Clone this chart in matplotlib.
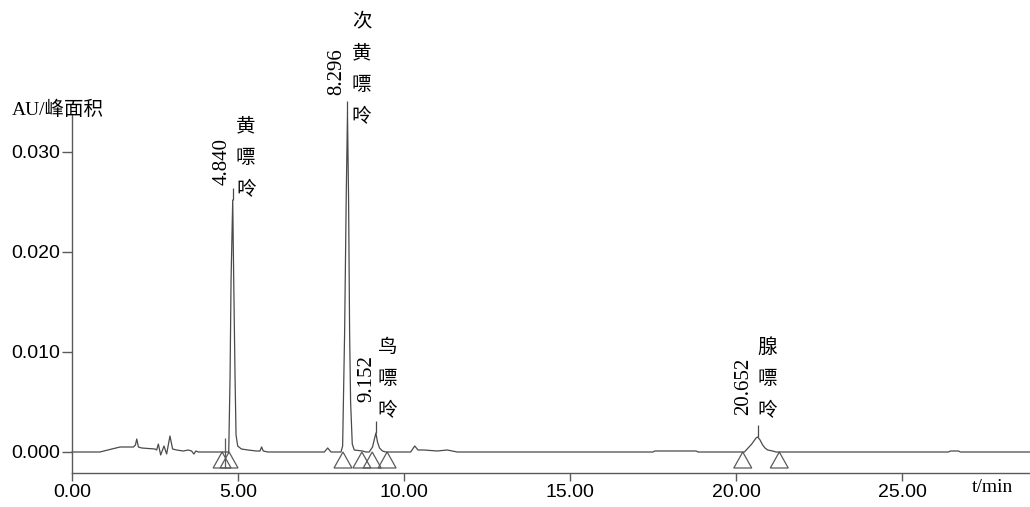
import matplotlib.pyplot as plt
from matplotlib.patches import Polygon

plt.rcParams['font.family'] = ['Liberation Sans', 'Noto Sans CJK SC']

# chromatogram trace: retention time (min) and detector signal (AU)
time_min = [0.00, 0.84, 1.20, 1.45, 1.85, 1.91, 1.95, 2.00, 2.10, 2.50, 2.55,
            2.60, 2.67, 2.77, 2.85, 2.95, 3.03, 3.15, 3.35, 3.50, 3.60, 3.67,
            3.73, 3.80, 3.95, 4.72, 4.76, 4.79, 4.84, 4.87, 4.91, 4.94, 4.99,
            5.10, 5.30, 5.55, 5.66, 5.71, 5.76, 5.90, 7.60, 7.70, 7.80, 8.10,
            8.15, 8.21, 8.26, 8.296, 8.33, 8.36, 8.39, 8.44, 8.50, 8.75, 8.85,
            8.95, 9.05, 9.10, 9.152, 9.20, 9.26, 9.35, 9.45, 10.20, 10.32,
            10.42, 10.60, 11.00, 11.30, 11.60, 17.50, 17.55, 18.80, 18.85,
            20.25, 20.47, 20.60, 20.652, 20.72, 20.80, 20.87, 20.95, 21.10,
            21.20, 26.40, 26.45, 26.70, 26.75, 28.85]
signal_au = [0.0000, 0.0000, 0.0003, 0.0005, 0.0005, 0.0007, 0.0013, 0.0005,
             0.0004, 0.0003, 0.0002, 0.0008, -0.0003, 0.0006, -0.0002, 0.0016,
             0.0003, 0.0002, 0.0001, 0.0002, 0.0001, -0.0002, 0.0001, 0.0000,
             0.0000, 0.0000, 0.0075, 0.0172, 0.0252, 0.0172, 0.0075, 0.0017,
             0.0006, 0.0003, 0.0002, 0.0001, 0.0001, 0.0005, 0.0001, 0.0000,
             0.0000, 0.0004, 0.0000, 0.0000, 0.0006, 0.0120, 0.0260, 0.0339,
             0.0250, 0.0120, 0.0050, 0.0008, 0.0002, 0.0001, 0.0000, 0.0000,
             0.0005, 0.0012, 0.0019, 0.0010, 0.0004, 0.0001, 0.0000, 0.0000,
             0.0006, 0.0002, 0.0002, 0.0001, 0.0002, 0.0000, 0.0000, 0.0001,
             0.0001, 0.0000, 0.0000, 0.0008, 0.0014, 0.0015, 0.0012, 0.0007,
             0.0004, 0.0002, 0.0001, 0.0000, 0.0000, 0.0001, 0.0001, 0.0000,
             0.0000]

# identified peaks
peak_rt = [4.840, 8.296, 9.152, 20.652]
peak_height = [0.0252, 0.0339, 0.0019, 0.0015]
peak_names = ['黄嘌呤', '次黄嘌呤', '鸟嘌呤', '腺嘌呤']

# integration start/end markers
baseline_marks = [4.52, 4.73, 8.16, 8.73, 9.04, 9.49, 20.20, 21.30]
event_mark = 4.60

x_ticks = [0, 5, 10, 15, 20, 25]
y_ticks = [0.0, 0.010, 0.020, 0.030]

# label offsets in pixels from each apex: (number dx, number bottom dy, name dx, last char dy)
label_offsets = [(-11, 15, 13, 10), (-11, 18, 14, -4), (-9, 31, 11, 22), (-14, 22, 9, 26)]

line_c = '#4a4a4a'
axis_c = '#5a5a5a'

fig = plt.figure(figsize=(10.3, 5.07), dpi=100)
ax = fig.add_axes([72 / 1030, 1 - 473 / 507, 1 - 72 / 1030, (473 - 114) / 507])

ax.plot(time_min, signal_au, color=line_c, lw=0.9, clip_on=False)

# baseline triangles
for t in baseline_marks:
    tri = Polygon([(t - 0.27, -0.0016), (t, 0.0), (t + 0.27, -0.0016)],
                  closed=True, fill=False, edgecolor=axis_c, lw=0.9)
    ax.add_patch(tri)
ax.vlines(event_mark, -0.0016, 0.0014, color=axis_c, lw=0.9)

# apex ticks and labels
for rt, h, name, off in zip(peak_rt, peak_height, peak_names, label_offsets):
    ax.vlines(rt, h, h + 0.0012, color=line_c, lw=0.9, clip_on=False)
    ax.annotate(f'{rt:.3f}', xy=(rt, h), xytext=(off[0], off[1]),
                textcoords='offset pixels', rotation=90, ha='center', va='bottom',
                fontsize=15, family=['Liberation Serif', 'Noto Sans CJK SC'],
                annotation_clip=False)
    for k, ch in enumerate(reversed(name)):
        ax.annotate(ch, xy=(rt, h), xytext=(off[2], off[3] + 32 * k),
                    textcoords='offset pixels', ha='center', va='center',
                    fontsize=14, family=['Noto Sans CJK SC'], annotation_clip=False)

ax.set_xlim(0, 28.85)
ax.set_ylim(-0.0021, 0.0338)
ax.set_xticks(x_ticks)
ax.set_xticklabels([f'{v:.2f}' for v in x_ticks])
ax.set_yticks(y_ticks)
ax.set_yticklabels([f'{v:.3f}' for v in y_ticks])

for side in ['top', 'right']:
    ax.spines[side].set_visible(False)
for side in ['left', 'bottom']:
    ax.spines[side].set_color(axis_c)
    ax.spines[side].set_linewidth(1.0)

ax.tick_params(axis='y', direction='out', length=7.2, width=1, color=axis_c,
               labelsize=14, pad=1)
ax.tick_params(axis='x', direction='out', length=6, width=1, color=axis_c,
               labelsize=14, pad=2)

fig.text(12 / 1030, 1 - 110 / 507, 'AU/峰面积', ha='left', va='center', fontsize=14,
         family=['Liberation Serif', 'Noto Sans CJK SC'])
fig.text(972 / 1030, 1 - 488 / 507, 't/min', ha='left', va='center', fontsize=14,
         family=['Liberation Serif', 'Noto Sans CJK SC'])

fig.savefig('out.png', dpi=100)
